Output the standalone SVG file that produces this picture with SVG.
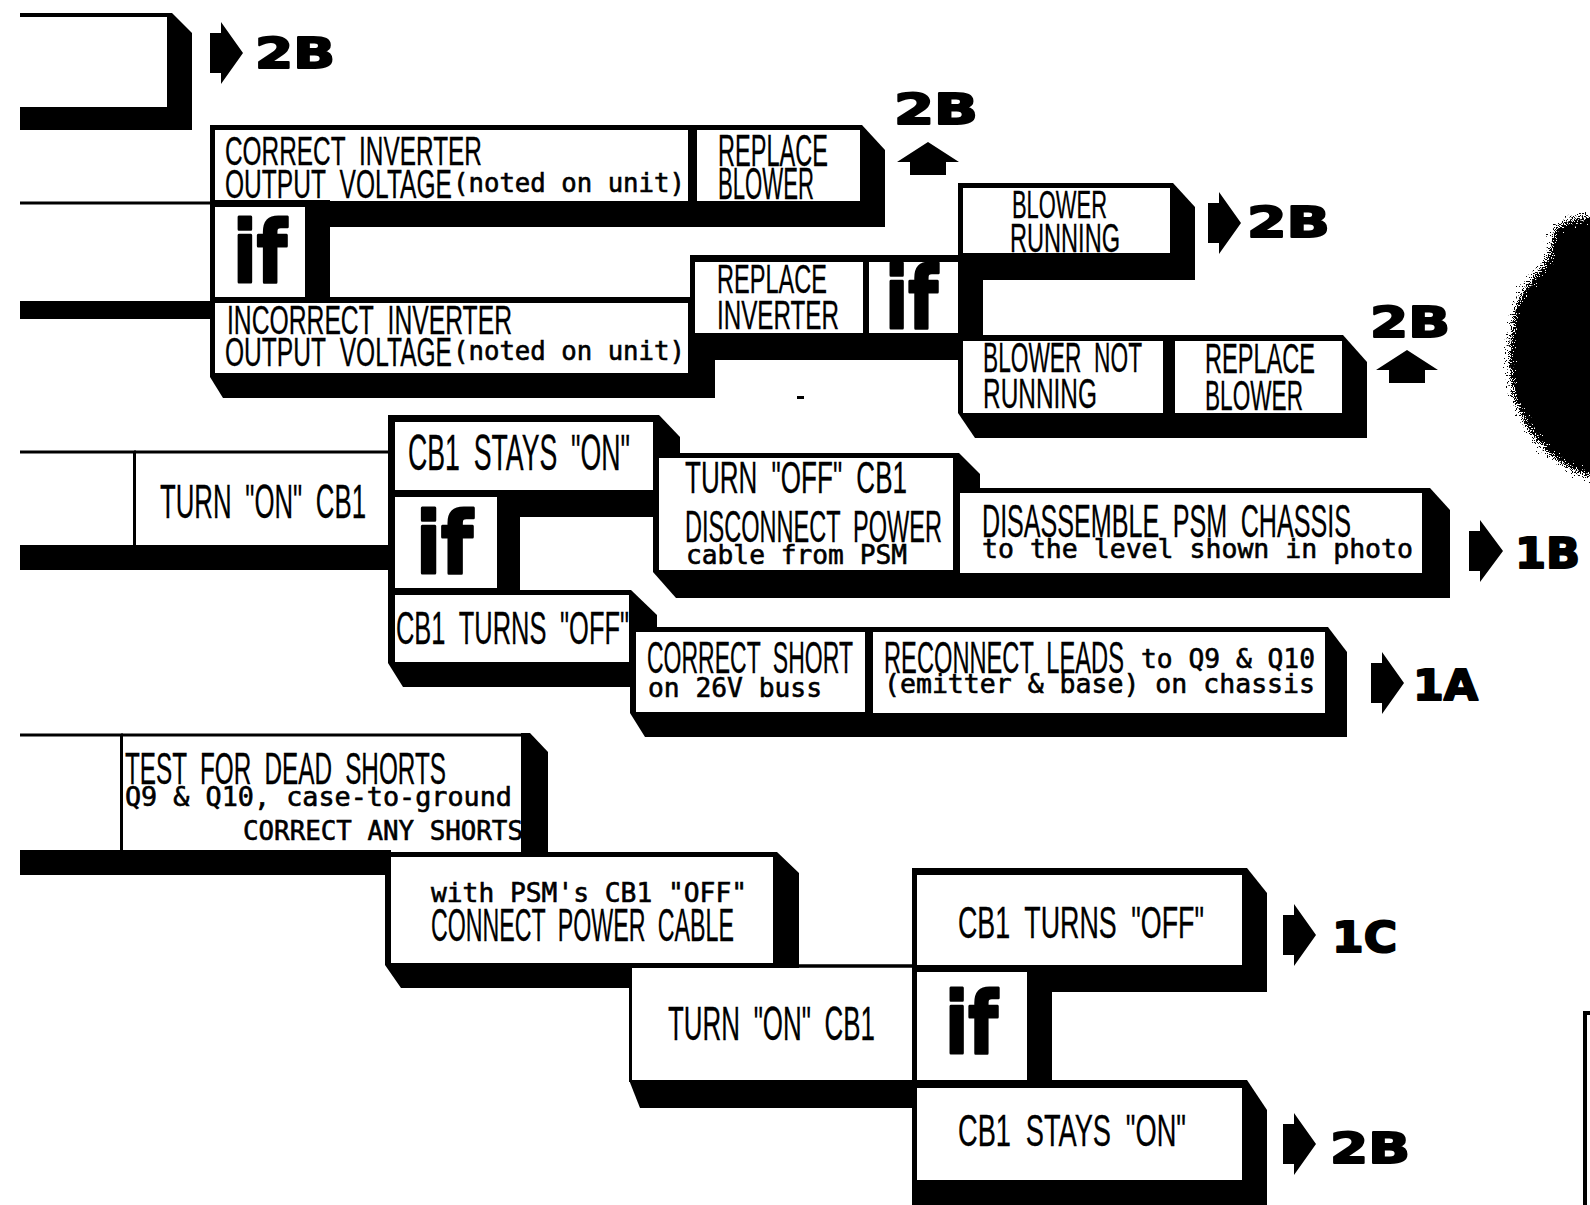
<svg xmlns="http://www.w3.org/2000/svg" width="1590" height="1205" viewBox="0 0 1590 1205">
<defs>
<style>
.blk{fill:#000}
.wht{fill:#fff}
.ln{stroke:#000;stroke-width:3;fill:none}
.lbl{fill:#000}
.c{font-family:"Liberation Sans",Arial,sans-serif;stroke:#000;stroke-width:0.3;word-spacing:12px}
.m{font-family:"DejaVu Sans Mono","Liberation Mono",monospace;font-size:26px;stroke:#000;stroke-width:0.6}
.iff{font-family:"DejaVu Sans",sans-serif;font-weight:bold;font-size:85px;fill:#000;stroke:#000;stroke-width:3;stroke-linejoin:round}
.ref{font-family:"DejaVu Sans",sans-serif;font-weight:bold;font-size:43px;fill:#000;stroke:#000;stroke-width:2;stroke-linejoin:round}
</style>
<filter id="fuzz" x="-20%" y="-20%" width="140%" height="140%">
<feTurbulence type="fractalNoise" baseFrequency="0.9" numOctaves="2" seed="3" result="n"/>
<feDisplacementMap in="SourceGraphic" in2="n" scale="26" xChannelSelector="R" yChannelSelector="G"/>
</filter>
</defs>
<rect x="0" y="0" width="1590" height="1205" fill="#fff"/>

<g id="connectors">
<line class="ln" x1="20" y1="203" x2="212" y2="203"/>
<rect class="blk" x="20" y="301" width="192" height="18"/>
<line class="ln" x1="20" y1="452" x2="136" y2="452"/>
<rect class="blk" x="20" y="545" width="116" height="25"/>
<line class="ln" x1="20" y1="735" x2="123" y2="735"/>
<rect class="blk" x="20" y="850" width="103" height="25"/>
<line class="ln" x1="799" y1="966" x2="914" y2="966"/>
</g>

<g id="n_prev">
<polygon class="blk" points="20,13 172,13 192,33 192,130 20,130"/>
<rect class="wht" x="20" y="17" width="147" height="90"/>
</g>

<g id="n_correct_inverter">
<polygon class="blk" points="210,125 700,125 700,227 210,227"/>
<rect class="wht" x="215" y="130" width="473" height="71"/>
<text class="lbl" transform="scale(0.6,1)"><tspan class="c" font-size="41" x="375" y="165" textLength="428.33" lengthAdjust="spacingAndGlyphs">CORRECT INVERTER</tspan><tspan class="c" font-size="41" x="375" y="198" textLength="378.33" lengthAdjust="spacingAndGlyphs">OUTPUT VOLTAGE</tspan><tspan class="m" x="755" y="192" textLength="386.67" lengthAdjust="spacingAndGlyphs">(noted on unit)</tspan></text>
</g>

<g id="n_replace_blower_1">
<polygon class="blk" points="688,125 862,125 885,150 885,227 688,227"/>
<rect class="wht" x="697" y="130" width="163" height="71"/>
<text class="lbl" transform="scale(0.6,1)"><tspan class="c" font-size="44" x="1196.67" y="166" textLength="183.33" lengthAdjust="spacingAndGlyphs">REPLACE</tspan><tspan class="c" font-size="44" x="1196.67" y="199" textLength="160" lengthAdjust="spacingAndGlyphs">BLOWER</tspan></text>
</g>

<g id="n_if_1">
<rect class="blk" x="210" y="200" width="120" height="103"/>
<rect class="wht" x="215" y="207" width="90" height="90"/>
<text class="iff" x="233" y="282" textLength="54" lengthAdjust="spacingAndGlyphs">if</text>
</g>

<g id="n_incorrect_inverter">
<polygon class="blk" points="210,297 715,297 715,398 223,398 210,377"/>
<rect class="wht" x="215" y="303" width="473" height="70"/>
<text class="lbl" transform="scale(0.6,1)"><tspan class="c" font-size="40" x="378.33" y="334" textLength="475" lengthAdjust="spacingAndGlyphs">INCORRECT INVERTER</tspan><tspan class="c" font-size="40" x="375" y="366" textLength="378.33" lengthAdjust="spacingAndGlyphs">OUTPUT VOLTAGE</tspan><tspan class="m" x="755" y="360" textLength="386.67" lengthAdjust="spacingAndGlyphs">(noted on unit)</tspan></text>
</g>

<g id="n_replace_inverter">
<rect class="blk" x="690" y="255" width="176" height="105"/>
<rect class="wht" x="695" y="262" width="168" height="71"/>
<text class="lbl" transform="scale(0.6,1)"><tspan class="c" font-size="41" x="1195" y="293" textLength="183.33" lengthAdjust="spacingAndGlyphs">REPLACE</tspan><tspan class="c" font-size="41" x="1195" y="329" textLength="203.33" lengthAdjust="spacingAndGlyphs">INVERTER</tspan></text>
</g>

<g id="n_if_2">
<rect class="blk" x="863" y="255" width="120" height="105"/>
<rect class="wht" x="869" y="262" width="89" height="71"/>
<text class="iff" x="885" y="328" font-size="82" textLength="53" lengthAdjust="spacingAndGlyphs">if</text>
</g>

<g id="n_blower_running">
<polygon class="blk" points="958,183 1173,183 1195,207 1195,280 958,280"/>
<rect class="wht" x="963" y="188" width="207" height="65"/>
<text class="lbl" transform="scale(0.6,1)"><tspan class="c" font-size="39" x="1686.67" y="218" textLength="158.33" lengthAdjust="spacingAndGlyphs">BLOWER</tspan><tspan class="c" font-size="40" x="1683.33" y="252" textLength="183.33" lengthAdjust="spacingAndGlyphs">RUNNING</tspan></text>
</g>

<g id="n_blower_not_running">
<polygon class="blk" points="958,335 1170,335 1170,438 975,438 958,413"/>
<rect class="wht" x="963" y="341" width="200" height="72"/>
<text class="lbl" transform="scale(0.6,1)"><tspan class="c" font-size="42" x="1638.33" y="372" textLength="265" lengthAdjust="spacingAndGlyphs">BLOWER NOT</tspan><tspan class="c" font-size="42" x="1638.33" y="408" textLength="190" lengthAdjust="spacingAndGlyphs">RUNNING</tspan></text>
</g>

<g id="n_replace_blower_2">
<polygon class="blk" points="1163,335 1343,335 1367,362 1367,438 1163,438"/>
<rect class="wht" x="1175" y="341" width="167" height="72"/>
<text class="lbl" transform="scale(0.6,1)"><tspan class="c" font-size="43" x="2008.33" y="373" textLength="183.33" lengthAdjust="spacingAndGlyphs">REPLACE</tspan><tspan class="c" font-size="43" x="2008.33" y="410" textLength="163.33" lengthAdjust="spacingAndGlyphs">BLOWER</tspan></text>
</g>

<g id="n_turn_on_1">
<line class="ln" x1="134" y1="452" x2="392" y2="452"/>
<line class="ln" x1="134.5" y1="451" x2="134.5" y2="546"/>
<rect class="blk" x="134" y="545" width="259" height="25"/>
<text class="lbl" transform="scale(0.6,1)"><tspan class="c" font-size="48" x="266.67" y="518" textLength="343.33" lengthAdjust="spacingAndGlyphs">TURN "ON" CB1</tspan></text>
</g>

<g id="n_cb1_stays_on_1">
<polygon class="blk" points="388,415 659,415 680,437 680,517 388,517"/>
<rect class="wht" x="395" y="422" width="258" height="68"/>
<text class="lbl" transform="scale(0.6,1)"><tspan class="c" font-size="50" x="680" y="470" textLength="370" lengthAdjust="spacingAndGlyphs">CB1 STAYS "ON"</tspan></text>
</g>

<g id="n_if_3">
<rect class="blk" x="388" y="490" width="132" height="105"/>
<rect class="wht" x="395" y="497" width="102" height="91"/>
<text class="iff" x="416" y="573" font-size="86" textLength="57" lengthAdjust="spacingAndGlyphs">if</text>
</g>

<g id="n_cb1_turns_off_1">
<polygon class="blk" points="388,590 631,590 657,615 657,687 403,687 388,663"/>
<rect class="wht" x="395" y="595" width="234" height="67"/>
<text class="lbl" transform="scale(0.6,1)"><tspan class="c" font-size="46" x="660" y="644" textLength="388.33" lengthAdjust="spacingAndGlyphs">CB1 TURNS "OFF"</tspan></text>
</g>

<g id="n_turn_off_disconnect">
<polygon class="blk" points="653,453 959,453 980,474 980,598 676,598 653,572"/>
<rect class="wht" x="659" y="458" width="294" height="112"/>
<text class="lbl" transform="scale(0.6,1)"><tspan class="c" font-size="45" x="1141.67" y="493" textLength="370" lengthAdjust="spacingAndGlyphs">TURN "OFF" CB1</tspan><tspan class="c" font-size="45" x="1141.67" y="542" textLength="428.33" lengthAdjust="spacingAndGlyphs">DISCONNECT POWER</tspan><tspan class="m" x="1143.33" y="564" textLength="368.33" lengthAdjust="spacingAndGlyphs">cable from PSM</tspan></text>
</g>

<g id="n_disassemble">
<polygon class="blk" points="953,488 1430,488 1450,510 1450,598 953,598"/>
<rect class="wht" x="960" y="493" width="462" height="80"/>
<text class="lbl" transform="scale(0.6,1)"><tspan class="c" font-size="46" x="1636.67" y="537" textLength="615" lengthAdjust="spacingAndGlyphs">DISASSEMBLE PSM CHASSIS</tspan><tspan class="m" x="1636.67" y="558" textLength="718.33" lengthAdjust="spacingAndGlyphs">to the level shown in photo</tspan></text>
</g>

<g id="n_correct_short">
<polygon class="blk" points="630,627 870,627 870,737 645,737 630,713"/>
<rect class="wht" x="636" y="632" width="229" height="80"/>
<text class="lbl" transform="scale(0.6,1)"><tspan class="c" font-size="45" x="1078.33" y="673" textLength="343.33" lengthAdjust="spacingAndGlyphs">CORRECT SHORT</tspan><tspan class="m" x="1080" y="697" textLength="290" lengthAdjust="spacingAndGlyphs">on 26V buss</tspan></text>
</g>

<g id="n_reconnect">
<polygon class="blk" points="865,627 1328,627 1347,652 1347,737 865,737"/>
<rect class="wht" x="873" y="632" width="452" height="81"/>
<text class="lbl" transform="scale(0.6,1)"><tspan class="c" font-size="45" x="1473.33" y="673" textLength="400" lengthAdjust="spacingAndGlyphs">RECONNECT LEADS</tspan><tspan class="m" x="1901.67" y="668" textLength="290" lengthAdjust="spacingAndGlyphs">to Q9 &amp; Q10</tspan><tspan class="m" x="1473.33" y="693" textLength="718.33" lengthAdjust="spacingAndGlyphs">(emitter &amp; base) on chassis</tspan></text>
</g>

<g id="n_test_shorts">
<line class="ln" x1="121" y1="735" x2="530" y2="735"/>
<line class="ln" x1="121.5" y1="734" x2="121.5" y2="852"/>
<polygon class="blk" points="521,733 530,733 548,752 548,852 521,852"/>
<rect class="blk" x="121" y="850" width="270" height="25"/>
<text class="lbl" transform="scale(0.6,1)"><tspan class="c" font-size="45" x="208.33" y="784" textLength="535" lengthAdjust="spacingAndGlyphs">TEST FOR DEAD SHORTS</tspan><tspan class="m" x="208.33" y="806" textLength="645" lengthAdjust="spacingAndGlyphs">Q9 &amp; Q10, case-to-ground</tspan><tspan class="m" x="405" y="840" textLength="466.67" lengthAdjust="spacingAndGlyphs">CORRECT ANY SHORTS</tspan></text>
</g>

<g id="n_connect_cable">
<polygon class="blk" points="385,852 777,852 799,873 799,968 631,968 631,988 401,988 385,965"/>
<rect class="wht" x="391" y="857" width="382" height="106"/>
<text class="lbl" transform="scale(0.6,1)"><tspan class="m" x="718.33" y="902" textLength="526.67" lengthAdjust="spacingAndGlyphs">with PSM's CB1 "OFF"</tspan><tspan class="c" font-size="47" x="718.33" y="941" textLength="505" lengthAdjust="spacingAndGlyphs">CONNECT POWER CABLE</tspan></text>
</g>

<g id="n_turn_on_2">
<line class="ln" x1="629" y1="966" x2="914" y2="966"/>
<line class="ln" x1="630.5" y1="965" x2="630.5" y2="1082"/>
<polygon class="blk" points="629,1080 912,1080 912,1108 640,1108"/>
<text class="lbl" transform="scale(0.6,1)"><tspan class="c" font-size="48" x="1113.33" y="1040" textLength="345" lengthAdjust="spacingAndGlyphs">TURN "ON" CB1</tspan></text>
</g>

<g id="n_cb1_turns_off_2">
<polygon class="blk" points="912,868 1247,868 1267,893 1267,992 912,992"/>
<rect class="wht" x="917" y="875" width="325" height="90"/>
<text class="lbl" transform="scale(0.6,1)"><tspan class="c" font-size="45" x="1596.67" y="938" textLength="410" lengthAdjust="spacingAndGlyphs">CB1 TURNS "OFF"</tspan></text>
</g>

<g id="n_if_4">
<rect class="blk" x="912" y="965" width="140" height="123"/>
<rect class="wht" x="917" y="972" width="110" height="110"/>
<text class="iff" x="945" y="1053" textLength="53" lengthAdjust="spacingAndGlyphs">if</text>
</g>

<g id="n_cb1_stays_on_2">
<polygon class="blk" points="912,1080 1247,1080 1267,1110 1267,1205 912,1205"/>
<rect class="wht" x="917" y="1088" width="325" height="92"/>
<text class="lbl" transform="scale(0.6,1)"><tspan class="c" font-size="45" x="1596.67" y="1146" textLength="380" lengthAdjust="spacingAndGlyphs">CB1 STAYS "ON"</tspan></text>
</g>

<g id="ref_2B_top">
<path class="blk" d="M210,33 H221 V22 L243,53 L221,84 V73 H210 Z"/>
<text class="ref" x="255" y="68" textLength="80" lengthAdjust="spacingAndGlyphs">2B</text>
</g>
<g id="ref_2B_up_1">
<text class="ref" x="894" y="124" textLength="84" lengthAdjust="spacingAndGlyphs">2B</text>
<path class="blk" d="M928,142 L959,162 H946 V175 H910 V162 H897 Z"/>
</g>
<g id="ref_2B_right">
<path class="blk" d="M1208,203 H1219 V192 L1241,223 L1219,254 V243 H1208 Z"/>
<text class="ref" x="1247" y="237" textLength="83" lengthAdjust="spacingAndGlyphs">2B</text>
</g>
<g id="ref_2B_up_2">
<text class="ref" x="1370" y="337" textLength="80" lengthAdjust="spacingAndGlyphs">2B</text>
<path class="blk" d="M1407,350 L1438,370 H1425 V383 H1389 V370 H1376 Z"/>
</g>
<g id="ref_1B">
<path class="blk" d="M1469,531 H1480 V520 L1503,551 L1480,582 V571 H1469 Z"/>
<text class="ref" x="1515" y="568" textLength="65" lengthAdjust="spacingAndGlyphs">1B</text>
</g>
<g id="ref_1A">
<path class="blk" d="M1371,663 H1382 V652 L1404,683 L1382,714 V703 H1371 Z"/>
<text class="ref" x="1413" y="700" textLength="65" lengthAdjust="spacingAndGlyphs">1A</text>
</g>
<g id="ref_1C">
<path class="blk" d="M1283,915 H1294 V904 L1316,935 L1294,966 V955 H1283 Z"/>
<text class="ref" x="1332" y="952" textLength="65" lengthAdjust="spacingAndGlyphs">1C</text>
</g>
<g id="ref_2B_bottom">
<path class="blk" d="M1283,1124 H1294 V1113 L1316,1144 L1294,1175 V1164 H1283 Z"/>
<text class="ref" x="1330" y="1163" textLength="80" lengthAdjust="spacingAndGlyphs">2B</text>
</g>

<g id="blob">
<path class="blk" filter="url(#fuzz)" d="M1560,224 C1572,219 1590,216 1600,216 L1600,480 C1580,474 1562,466 1548,452 C1532,436 1518,415 1513,392 C1508,365 1509,335 1516,308 C1522,290 1536,275 1546,262 C1552,250 1550,234 1560,224 Z"/>
</g>
<g id="edge_box">
<path d="M1592,1013 H1585 V1205" fill="none" stroke="#000" stroke-width="4"/>
</g>
<rect class="blk" x="797" y="396" width="7" height="3"/>
</svg>
